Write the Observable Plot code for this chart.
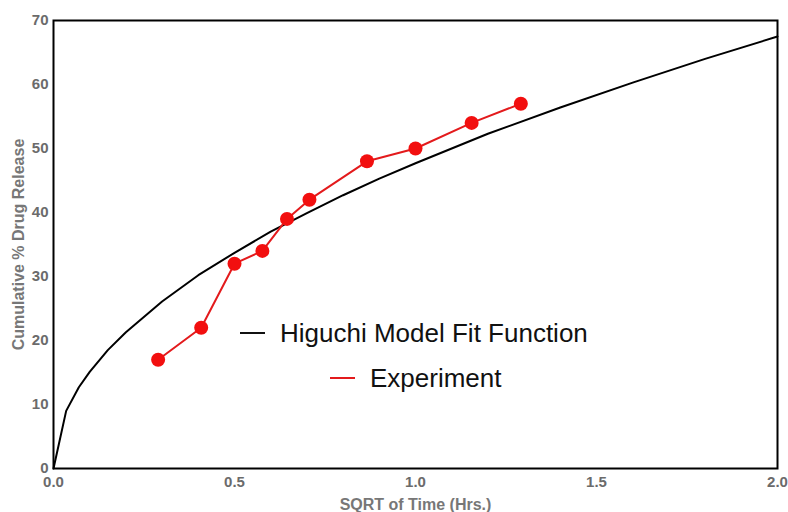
<!DOCTYPE html>
<html>
<head>
<meta charset="utf-8">
<script src="https://cdn.jsdelivr.net/npm/d3@7"></script>
<script src="https://cdn.jsdelivr.net/npm/@observablehq/plot@0.6"></script>
<style>
  html, body { margin: 0; padding: 0; background: #fff; }
  #wrap { position: relative; width: 788px; height: 512px; }
  #legend { position: absolute; left: 0; top: 0; font-family: "Liberation Sans", Arial, sans-serif; font-size: 26px; color: #111; }
  .item { position: absolute; display: flex; align-items: center; white-space: nowrap; }
  .sw { display: inline-block; width: 25px; height: 2px; margin-right: 15px; }
</style>
</head>
<body>
<div id="wrap"><div id="legend"></div></div>
<script>
// Higuchi model fit curve
const fitX = [0, 0.035, 0.07, 0.1, 0.15, 0.2, 0.3, 0.4, 0.5, 0.6, 0.7, 0.8, 0.9, 1.0, 1.2, 1.4, 1.6, 1.8, 2.0];
const fitY = [0, 9.0, 12.7, 15.1, 18.5, 21.3, 26.1, 30.2, 33.7, 37.0, 39.9, 42.7, 45.3, 47.7, 52.3, 56.4, 60.3, 64.0, 67.5];
// Experimental points
const expX = [0.289, 0.408, 0.5, 0.577, 0.645, 0.707, 0.866, 1.0, 1.155, 1.291];
const expY = [17, 22, 32, 34, 39, 42, 48, 50, 54, 57];
// Ticks
const xTicks = [0, 0.5, 1.0, 1.5, 2.0];
const yTicks = [0, 10, 20, 30, 40, 50, 60, 70];
const seriesNames = ["Higuchi Model Fit Function", "Experiment"];
const seriesColors = ["#111", "#e31a1c"];

const fit = fitX.map((x, i) => ({x, y: fitY[i]}));
const exp = expX.map((x, i) => ({x, y: expY[i]}));

const tickFont = {fontFamily: "Liberation Sans, Arial, sans-serif", fontWeight: "bold", fontSize: 15, fill: "#6b6b6b"};

const chart = Plot.plot({
  width: 788, height: 512,
  marginLeft: 53, marginRight: 11, marginTop: 20, marginBottom: 44,
  style: {fontFamily: "Liberation Sans, Arial, sans-serif", background: "#fff", overflow: "visible"},
  x: {domain: [0, 2]},
  y: {domain: [0, 70]},
  marks: [
    Plot.axisX({ticks: xTicks, tickSize: 0, tickPadding: 8, tickFormat: d => d.toFixed(1), ...tickFont,
      label: null}),
    Plot.axisX({ticks: [], tickSize: 0, ...tickFont, fontSize: 16, fill: "#777",
      label: "SQRT of Time (Hrs.)", labelAnchor: "center", labelArrow: "none", labelOffset: 41}),
    Plot.axisY({ticks: yTicks, tickSize: 0, tickPadding: 5, ...tickFont, label: null}),
    Plot.axisY({ticks: [], tickSize: 0, ...tickFont, fontSize: 16, fill: "#777",
      label: "Cumulative % Drug Release", labelAnchor: "center", labelArrow: "none", labelOffset: 41}),
    Plot.line(fit, {x: "x", y: "y", stroke: "#000", strokeWidth: 2}),
    Plot.line(exp, {x: "x", y: "y", stroke: "#e31a1c", strokeWidth: 2}),
    Plot.dot(exp, {x: "x", y: "y", r: 7, fill: "#f20f0f", stroke: "none"}),
    Plot.frame({stroke: "#000", strokeWidth: 2})
  ]
});
document.getElementById("wrap").prepend(chart);

// In-plot legend
const legend = document.getElementById("legend");
const legendPos = [[240, 333], [330, 378]];
seriesNames.forEach((name, i) => {
  const d = document.createElement("div");
  d.className = "item";
  d.style.left = legendPos[i][0] + "px";
  d.style.top = (legendPos[i][1] - 16) + "px";
  d.style.height = "32px";
  const sw = document.createElement("span");
  sw.className = "sw";
  sw.style.background = seriesColors[i];
  d.appendChild(sw);
  d.appendChild(document.createTextNode(name));
  legend.appendChild(d);
});
</script>
</body>
</html>
